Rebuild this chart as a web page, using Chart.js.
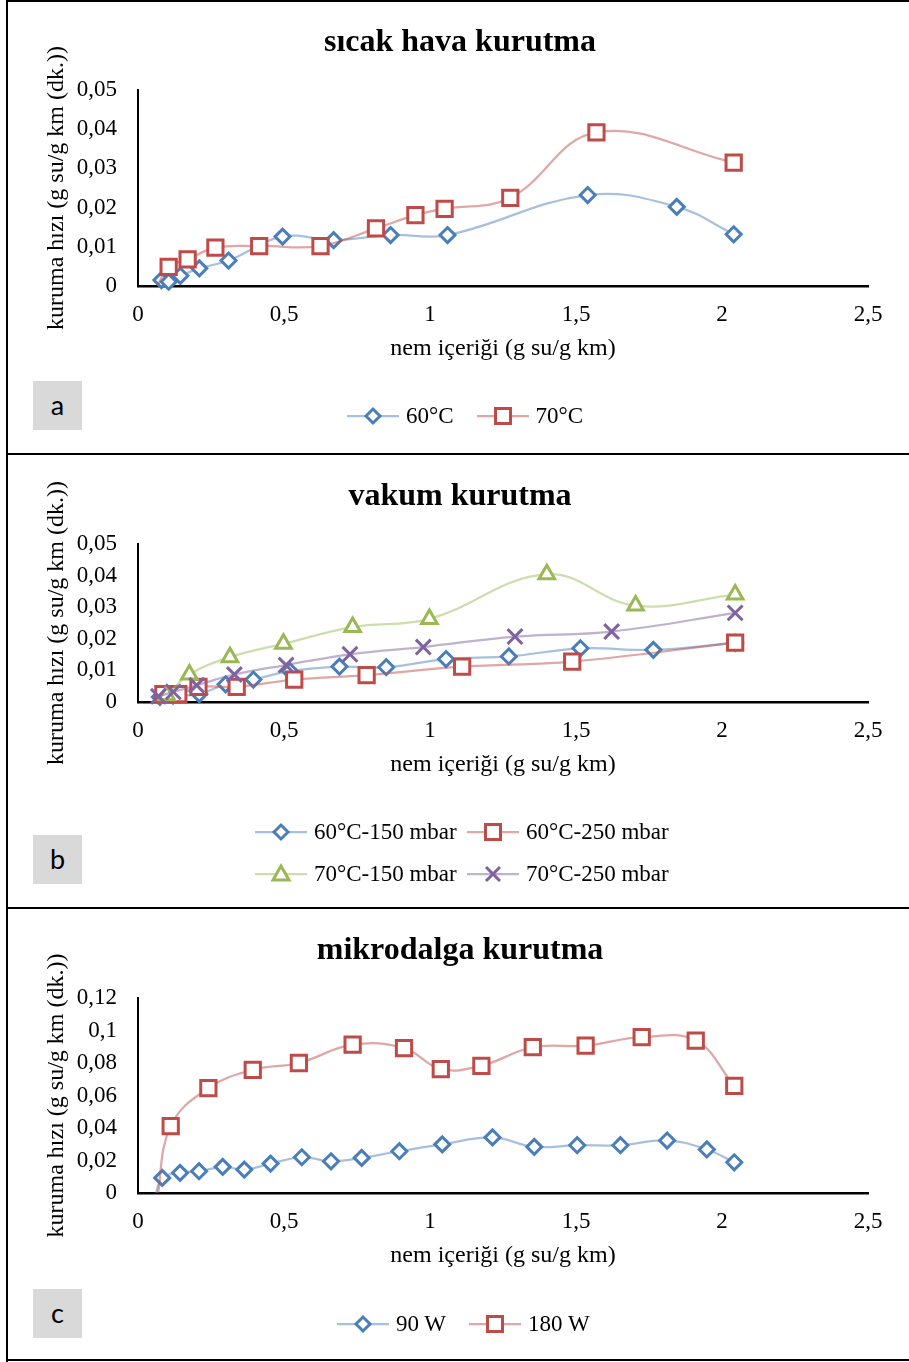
<!DOCTYPE html>
<html lang="tr">
<head>
<meta charset="utf-8">
<title>Kuruma hızı - nem içeriği</title>
<script src="https://cdn.jsdelivr.net/npm/chart.js@4.4.1/dist/chart.umd.min.js"></script>
<style>
  html, body { margin: 0; padding: 0; background: #fff; }
  body { width: 909px; height: 1362px; position: relative; overflow: hidden;
         font-family: 'Liberation Serif', 'Times New Roman', serif; color: #000; }
  .panel { position: absolute; left: 0; width: 909px; height: 454px; }
  .panel canvas { position: absolute; left: 0; top: 0; }
  .tag { position: absolute; left: 33px; top: 381px; width: 49px; height: 49px; background: #d9d9d9;
         font: 27px Lato, 'Open Sans', sans-serif; line-height: 47px; text-align: center; }
  .legend { position: absolute; font-size: 23px; display: flex; align-items: center; height: 28px; white-space: nowrap; }
  .legend.grid { display: grid; grid-template-columns: 212px 212px; grid-auto-rows: 42px; height: auto; }
  .item { display: inline-flex; align-items: center; margin-right: 23px; }
  .grid .item { margin-right: 0; }
  .item svg { margin-right: 7px; flex-shrink: 0; }
  .rule { position: absolute; background: #000; }
</style>
</head>
<body>

<div class="panel" style="top:0">
  <canvas id="hot" width="909" height="454"></canvas>
  <div class="tag">a</div>
  <div class="legend" id="legHot" style="left:347px; top:402px"></div>
</div>

<div class="panel" style="top:454px">
  <canvas id="vac" width="909" height="454"></canvas>
  <div class="tag">b</div>
  <div class="legend grid" id="legVac" style="left:255px; top:357px"></div>
</div>

<div class="panel" style="top:908px">
  <canvas id="mw" width="909" height="454"></canvas>
  <div class="tag">c</div>
  <div class="legend" id="legMw" style="left:337px; top:402px"></div>
</div>

<!-- frame -->
<div class="rule" style="left:6px; top:0; width:2px; height:1362px"></div>
<div class="rule" style="left:6px; top:0; width:903px; height:2px"></div>
<div class="rule" style="left:6px; top:453px; width:903px; height:2px"></div>
<div class="rule" style="left:6px; top:907px; width:903px; height:2px"></div>
<div class="rule" style="left:6px; top:1359px; width:903px; height:2px"></div>

<script>
// axis ticks
const moistureTicks = [0, 0.5, 1, 1.5, 2, 2.5];
const rateTicks = [0, 0.01, 0.02, 0.03, 0.04, 0.05];
const mwRateTicks = [0, 0.02, 0.04, 0.06, 0.08, 0.1, 0.12];

// sıcak hava kurutma
const hot60X = [0.08, 0.105, 0.145, 0.21, 0.31, 0.495, 0.67, 0.865, 1.06, 1.54, 1.845, 2.04];
const hot60Y = [0.0015, 0.0011, 0.0026, 0.0045, 0.0065, 0.0126, 0.0117, 0.0130, 0.0130, 0.0232, 0.0202, 0.0132];
const hot70X = [0.055, 0.105, 0.17, 0.265, 0.415, 0.625, 0.815, 0.95, 1.05, 1.275, 1.57, 2.04];
const hot70Y = [-0.002, 0.0049, 0.0068, 0.0098, 0.0102, 0.0102, 0.0147, 0.0181, 0.0197, 0.0225, 0.0392, 0.0315];

// vakum kurutma
const vac60_150X = [0.075, 0.12, 0.21, 0.30, 0.395, 0.52, 0.69, 0.85, 1.055, 1.27, 1.515, 1.765, 2.045];
const vac60_150Y = [0.0016, 0.0020, 0.0025, 0.0056, 0.0071, 0.0098, 0.0112, 0.0110, 0.0136, 0.0144, 0.0170, 0.0165, 0.0187];
const vac60_250X = [0.087, 0.138, 0.207, 0.338, 0.535, 0.783, 1.11, 1.487, 2.045];
const vac60_250Y = [0.0025, 0.0025, 0.0048, 0.0048, 0.0071, 0.0085, 0.0112, 0.0128, 0.0188];
const vac70_150X = [0.098, 0.176, 0.315, 0.498, 0.735, 0.998, 1.40, 1.704, 2.045];
const vac70_150Y = [0.0021, 0.0087, 0.0142, 0.0184, 0.0237, 0.0263, 0.0404, 0.0305, 0.0340];
const vac70_250X = [0.07, 0.121, 0.201, 0.33, 0.507, 0.726, 0.977, 1.291, 1.622, 2.045];
const vac70_250Y = [0.0018, 0.0032, 0.0053, 0.0087, 0.0117, 0.0151, 0.0174, 0.0207, 0.0223, 0.0282];

// mikrodalga kurutma
const mw90X = [0.056, 0.083, 0.144, 0.209, 0.29, 0.364, 0.454, 0.561, 0.661, 0.766, 0.895, 1.042, 1.214, 1.357, 1.504, 1.652, 1.812, 1.948, 2.042];
const mw90Y = [-0.004, 0.0093, 0.0124, 0.0134, 0.0161, 0.0144, 0.0181, 0.0220, 0.0195, 0.0216, 0.0257, 0.0299, 0.0342, 0.0284, 0.0294, 0.0294, 0.0323, 0.0268, 0.0189];
const mw180X = [0.065, 0.112, 0.241, 0.393, 0.551, 0.735, 0.911, 1.037, 1.176, 1.352, 1.533, 1.725, 1.91, 2.042];
const mw180Y = [-0.005, 0.0412, 0.0645, 0.0758, 0.0800, 0.0913, 0.0892, 0.0763, 0.0783, 0.0897, 0.0907, 0.0959, 0.0938, 0.0659];

// office-style series look
const looks = {
  blue:   { mark: '#4a7ebb', line: 'rgba(79,129,189,0.5)',  style: 'rectRot',  r: 7.5 },
  red:    { mark: '#be4b48', line: 'rgba(192,80,77,0.5)',   style: 'rect',     r: 10.8 },
  green:  { mark: '#98b954', line: 'rgba(155,187,89,0.5)',  style: 'triangle', r: 9 },
  purple: { mark: '#7f63a1', line: 'rgba(128,100,162,0.5)', style: 'crossRot', r: 10.5 }
};

Chart.defaults.font.family = "'Liberation Serif', 'Times New Roman', serif";
Chart.defaults.color = '#000';

const fmt = v => String(Math.round(v * 1000) / 1000).replace('.', ',');
const toPoints = (xs, ys) => xs.map((x, i) => ({ x: x, y: ys[i] }));

function series(label, xs, ys, look, i, n) {
  const lk = looks[look];
  const dips = ys.some(v => v < 0);
  return {
    label: label,
    data: toPoints(xs, ys),
    showLine: true,
    tension: 0.4,
    borderColor: lk.line,
    borderWidth: 2.25,
    pointStyle: lk.style,
    // points under the axis only carry the line down to it
    pointRadius: ctx => (ctx.raw && ctx.raw.y < 0 ? 0 : lk.r),
    pointBorderWidth: 3,
    pointBorderColor: lk.mark,
    pointBackgroundColor: '#fff',
    order: n - i,
    clip: dips ? { left: false, top: false, right: false, bottom: 0 } : false
  };
}

function drawPanel(id, title, datasets, yTicks, plotBottom) {
  const H = 454;
  return new Chart(document.getElementById(id), {
    type: 'scatter',
    data: { datasets: datasets },
    options: {
      responsive: false,
      animation: false,
      devicePixelRatio: 1,
      layout: { padding: { left: 52, right: 41, top: 0, bottom: H - plotBottom - 77 } },
      plugins: {
        legend: { display: false },
        tooltip: { enabled: false },
        title: {
          display: true, text: title, color: '#000',
          font: { size: 32, weight: 'bold' },
          padding: { top: 24, bottom: 27.6 }
        }
      },
      scales: {
        x: {
          type: 'linear', min: 0, max: 2.5,
          afterBuildTicks: s => { s.ticks = moistureTicks.map(v => ({ value: v })); },
          afterFit: s => { s.height = 77; },
          grid: { display: false, drawTicks: false },
          border: { color: '#000', width: 2.5 },
          ticks: { padding: 15, font: { size: 23 }, color: '#000', callback: fmt, maxRotation: 0, autoSkip: false },
          title: { display: true, text: 'nem içeriği (g su/g km)', font: { size: 24 }, color: '#000', padding: 0 }
        },
        y: {
          type: 'linear', min: 0, max: yTicks[yTicks.length - 1],
          afterBuildTicks: s => { s.ticks = yTicks.map(v => ({ value: v })); },
          afterFit: s => { s.width = 86; },
          grid: { display: false, drawTicks: false },
          border: { color: '#000', width: 2 },
          ticks: { padding: 21, font: { size: 23 }, color: '#000', callback: fmt, autoSkip: false },
          title: { display: true, text: 'kuruma hızı (g su/g km (dk.))', font: { size: 24 }, color: '#000',
                   padding: { top: -9.4, bottom: 0 } }
        }
      }
    }
  });
}

// legend swatches: line with the marker in the middle
function swatch(look) {
  const lk = looks[look];
  const c = 26, m = 12;
  let mark = '';
  const st = `stroke="${lk.mark}" stroke-width="3" fill="#fff"`;
  if (lk.style === 'rectRot') mark = `<polygon points="${c - 7},${m} ${c},${m - 7} ${c + 7},${m} ${c},${m + 7}" ${st}/>`;
  if (lk.style === 'rect') mark = `<rect x="${c - 7.5}" y="${m - 7.5}" width="15" height="15" ${st}/>`;
  if (lk.style === 'triangle') mark = `<polygon points="${c},${m - 8} ${c + 8},${m + 6} ${c - 8},${m + 6}" ${st}/>`;
  if (lk.style === 'crossRot') mark = `<path d="M${c - 7} ${m - 7}L${c + 7} ${m + 7}M${c - 7} ${m + 7}L${c + 7} ${m - 7}" ${st}/>`;
  return `<svg width="52" height="24" viewBox="0 0 52 24"><line x1="0" y1="${m}" x2="52" y2="${m}" stroke="${lk.line}" stroke-width="2.25"/>${mark}</svg>`;
}

function fillLegend(id, entries) {
  document.getElementById(id).innerHTML = entries
    .map(e => `<span class="item">${swatch(e[1])}<span>${e[0]}</span></span>`).join('');
}

drawPanel('hot', 'sıcak hava kurutma', [
  series('60°C', hot60X, hot60Y, 'blue', 0, 2),
  series('70°C', hot70X, hot70Y, 'red', 1, 2)
], rateTicks, 286);

drawPanel('vac', 'vakum kurutma', [
  series('60°C-150 mbar', vac60_150X, vac60_150Y, 'blue', 0, 4),
  series('60°C-250 mbar', vac60_250X, vac60_250Y, 'red', 1, 4),
  series('70°C-150 mbar', vac70_150X, vac70_150Y, 'green', 2, 4),
  series('70°C-250 mbar', vac70_250X, vac70_250Y, 'purple', 3, 4)
], rateTicks, 248);

drawPanel('mw', 'mikrodalga kurutma', [
  series('90 W', mw90X, mw90Y, 'blue', 0, 2),
  series('180 W', mw180X, mw180Y, 'red', 1, 2)
], mwRateTicks, 285);

fillLegend('legHot', [['60°C', 'blue'], ['70°C', 'red']]);
fillLegend('legVac', [['60°C-150 mbar', 'blue'], ['60°C-250 mbar', 'red'], ['70°C-150 mbar', 'green'], ['70°C-250 mbar', 'purple']]);
fillLegend('legMw', [['90 W', 'blue'], ['180 W', 'red']]);
</script>
</body>
</html>
